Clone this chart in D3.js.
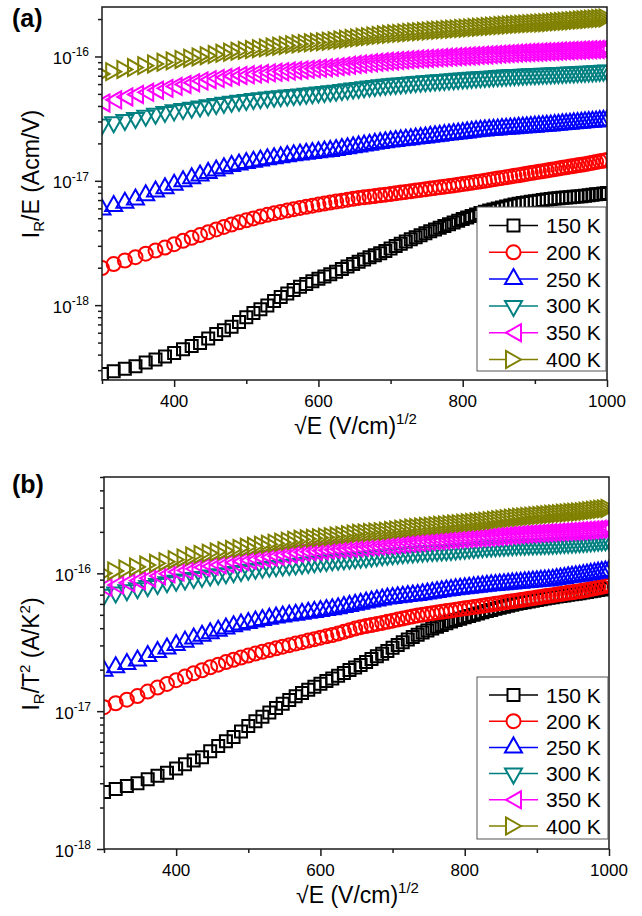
<!DOCTYPE html>
<html>
<head>
<meta charset="utf-8">
<script src="https://cdn.jsdelivr.net/npm/d3@7"></script>
<style>
body { margin: 0; background: #fff; }
svg text { font-family: Arial, "Liberation Sans", sans-serif; fill: #000; }
</style>
</head>
<body>
<svg id="chart" width="642" height="916"></svg>
<script>
// sqrt(E), (V/cm)^1/2 -- one point per 10 kV/cm step in E
var sqrtE = [300.0,316.2,331.7,346.4,360.6,374.2,387.3,400.0,412.3,424.3,
  435.9,447.2,458.3,469.0,479.6,489.9,500.0,509.9,519.6,529.2,
  538.5,547.7,556.8,565.7,574.5,583.1,591.6,600.0,608.3,616.4,
  624.5,632.5,640.3,648.1,655.7,663.3,670.8,678.2,685.6,692.8,
  700.0,707.1,714.1,721.1,728.0,734.8,741.6,748.3,755.0,761.6,
  768.1,774.6,781.0,787.4,793.7,800.0,806.2,812.4,818.5,824.6,
  830.7,836.7,842.6,848.5,854.4,860.2,866.0,871.8,877.5,883.2,
  888.8,894.4,900.0,905.5,911.0,916.5,922.0,927.4,932.7,938.1,
  943.4,948.7,953.9,959.2,964.4,969.5,974.7,979.8,984.9,989.9,
  995.0,1000.0];

var temps = ["150 K", "200 K", "250 K", "300 K", "350 K", "400 K"];

// (a) I_R/E, in units of 1e-18 A cm/V
var unitA = 1e-18;
var a150 = [0.279,0.294,0.308,0.323,0.345,0.366,0.386,0.413,0.441,0.469,
  0.496,0.540,0.585,0.627,0.669,0.731,0.798,0.864,0.928,0.995,
  1.078,1.161,1.243,1.323,1.403,1.478,1.553,1.627,1.700,1.771,
  1.854,1.951,2.045,2.139,2.231,2.329,2.426,2.522,2.618,2.727,
  2.861,2.993,3.124,3.254,3.382,3.509,3.648,3.788,3.928,4.067,
  4.202,4.338,4.472,4.621,4.771,4.921,5.068,5.216,5.361,5.505,
  5.643,5.760,5.876,5.990,6.105,6.218,6.331,6.444,6.541,6.620,
  6.697,6.774,6.851,6.927,7.003,7.078,7.149,7.197,7.243,7.291,
  7.338,7.385,7.431,7.478,7.524,7.580,7.647,7.714,7.780,7.845,
  7.912,7.977];
var a200 = [1.988,2.141,2.286,2.432,2.595,2.752,2.903,3.092,3.288,3.479,
  3.663,3.865,4.066,4.258,4.450,4.633,4.811,4.987,5.158,5.326,
  5.475,5.622,5.767,5.910,6.050,6.180,6.308,6.435,6.560,6.682,
  6.805,6.927,7.047,7.166,7.279,7.370,7.460,7.548,7.636,7.730,
  7.834,7.937,8.038,8.140,8.240,8.339,8.445,8.550,8.656,8.760,
  8.863,8.965,9.066,9.183,9.301,9.419,9.536,9.652,9.767,9.880,
  10.00,10.14,10.28,10.42,10.55,10.69,10.82,10.96,11.09,11.24,
  11.39,11.53,11.68,11.82,11.96,12.10,12.25,12.40,12.55,12.71,
  12.86,13.01,13.16,13.31,13.46,13.62,13.80,13.98,14.16,14.34,
  14.52,14.70];
var a250 = [6.155,6.576,6.978,7.414,8.012,8.586,9.139,9.752,10.37,10.97,
  11.55,12.13,12.70,13.24,13.79,14.19,14.55,14.90,15.24,15.58,
  15.88,16.19,16.49,16.78,17.06,17.30,17.54,17.77,18.01,18.23,
  18.51,18.84,19.17,19.49,19.81,20.14,20.46,20.78,21.10,21.39,
  21.65,21.90,22.15,22.40,22.64,22.89,23.15,23.40,23.66,23.92,
  24.17,24.41,24.66,24.92,25.17,25.43,25.68,25.93,26.18,26.42,
  26.65,26.81,26.97,27.13,27.30,27.45,27.61,27.77,27.93,28.09,
  28.25,28.41,28.57,28.73,28.89,29.04,29.21,29.40,29.59,29.79,
  29.98,30.18,30.36,30.56,30.74,30.93,31.11,31.29,31.47,31.65,
  31.83,32.01];
var a300 = [27.09,28.29,29.44,30.58,31.84,33.06,34.22,35.19,36.08,36.96,
  37.80,38.70,39.59,40.44,41.29,42.03,42.73,43.42,44.09,44.74,
  45.25,45.77,46.27,46.77,47.26,47.84,48.42,48.98,49.54,50.09,
  50.70,51.38,52.04,52.70,53.35,54.01,54.66,55.30,55.94,56.52,
  57.02,57.51,58.00,58.49,58.97,59.45,59.87,60.28,60.69,61.10,
  61.50,61.90,62.29,62.69,63.09,63.48,63.87,64.27,64.65,65.03,
  65.40,65.72,66.04,66.36,66.67,66.98,67.30,67.61,67.88,68.12,
  68.35,68.58,68.81,69.04,69.27,69.49,69.72,69.95,70.18,70.41,
  70.64,70.87,71.09,71.32,71.54,71.80,72.12,72.43,72.74,73.05,
  73.36,73.67];
var a350 = [42.26,44.80,47.23,49.50,51.55,53.52,55.41,57.48,59.54,61.56,
  63.50,65.02,66.51,67.94,69.36,70.37,71.24,72.10,72.94,73.78,
  74.63,75.47,76.30,77.11,77.92,78.74,79.54,80.34,81.13,81.89,
  82.82,83.92,85.01,86.08,87.12,88.01,88.89,89.77,90.63,91.41,
  92.09,92.76,93.42,94.08,94.73,95.37,95.92,96.44,96.97,97.49,
  97.99,98.50,99.00,99.51,100.0,100.5,101.0,101.5,102.0,102.5,
  102.9,103.5,104.0,104.5,105.0,105.4,105.9,106.4,106.9,107.2,
  107.6,108.0,108.3,108.7,109.0,109.4,109.8,110.1,110.5,110.9,
  111.2,111.6,111.9,112.3,112.6,113.0,113.3,113.6,113.9,114.3,
  114.6,114.9];
var a400 = [72.3,75.5,78.6,81.5,84.4,87.1,89.8,92.2,94.6,96.9,
  99.1,101.4,103.7,106.0,108.2,110.1,111.9,113.7,115.5,117.2,
  119.1,120.9,122.7,124.5,126.2,127.5,128.8,130.1,131.4,132.6,
  134.1,135.9,137.6,139.4,141.1,142.8,144.5,146.2,147.9,149.4,
  150.7,152.1,153.4,154.6,155.9,157.2,158.3,159.4,160.5,161.6,
  162.6,163.7,164.7,165.8,166.8,167.9,168.9,169.9,171.0,172.0,
  173.0,174.1,175.1,176.2,177.2,178.3,179.3,180.3,181.3,182.1,
  182.9,183.8,184.6,185.4,186.2,187.0,187.9,188.9,190.0,191.0,
  192.1,193.1,194.1,195.2,196.2,197.3,198.4,199.6,200.7,201.8,
  203.0,204.1];

// (b) I_R/T^2, in units of 1e-18 A/K^2
var unitB = 1e-18;
var b150 = [2.588,2.727,2.861,3.005,3.203,3.394,3.577,3.837,4.113,4.381,
  4.640,5.115,5.586,6.038,6.488,7.119,7.794,8.460,9.108,9.772,
  10.54,11.31,12.07,12.81,13.55,14.30,15.05,15.79,16.52,17.23,
  18.04,18.96,19.86,20.75,21.64,22.78,23.89,25.00,26.10,27.33,
  28.80,30.25,31.68,33.10,34.51,35.90,37.21,38.48,39.75,41.01,
  42.25,43.48,44.70,45.83,46.92,48.01,49.09,50.16,51.22,52.27,
  53.32,54.31,55.28,56.25,57.22,58.18,59.13,60.09,60.97,61.76,
  62.54,63.32,64.09,64.86,65.62,66.38,67.14,67.82,68.49,69.18,
  69.84,70.51,71.17,71.84,72.50,73.21,74.00,74.78,75.56,76.32,
  77.10,77.86];
var b200 = [10.69,11.42,12.12,12.87,13.87,14.83,15.76,16.79,17.83,18.84,
  19.81,20.79,21.76,22.69,23.61,24.48,25.33,26.16,26.97,27.77,
  28.57,29.36,30.14,30.91,31.67,32.50,33.31,34.12,34.92,35.70,
  36.60,37.65,38.68,39.71,40.69,41.46,42.21,42.96,43.71,44.48,
  45.34,46.18,47.02,47.85,48.67,49.48,50.15,50.77,51.40,52.03,
  52.64,53.24,53.85,54.48,55.11,55.74,56.36,56.97,57.58,58.19,
  58.82,59.48,60.14,60.79,61.45,62.09,62.73,63.37,64.03,64.72,
  65.39,66.07,66.74,67.40,68.07,68.73,69.40,70.11,70.80,71.51,
  72.21,72.90,73.58,74.27,74.96,75.80,76.83,77.84,78.85,79.85,
  80.85,81.85];
var b250 = [20.49,21.75,22.94,24.27,26.16,27.98,29.73,31.54,33.32,35.06,
  36.74,38.37,39.98,41.53,43.07,44.35,45.52,46.69,47.82,48.91,
  49.77,50.61,51.45,52.28,53.09,53.94,54.77,55.60,56.42,57.22,
  58.19,59.36,60.52,61.66,62.79,63.97,65.14,66.29,67.44,68.42,
  69.15,69.88,70.59,71.31,72.01,72.71,73.60,74.52,75.44,76.35,
  77.24,78.13,79.01,79.78,80.51,81.25,81.97,82.70,83.41,84.11,
  84.79,85.36,85.92,86.47,87.03,87.58,88.13,88.68,89.23,89.79,
  90.35,90.90,91.46,92.00,92.55,93.09,93.72,94.67,95.61,96.58,
  97.51,98.45,99.37,100.3,101.2,102.2,103.3,104.4,105.5,106.6,
  107.6,108.7];
var b300 = [67.0,69.7,72.2,74.7,77.5,80.2,82.7,84.8,86.7,88.6,
  90.4,92.4,94.3,96.1,97.9,99.8,101.7,103.5,105.3,107.0,
  108.2,109.3,110.3,111.4,112.5,113.9,115.3,116.7,118.0,119.3,
  120.5,121.5,122.4,123.4,124.3,125.7,127.1,128.4,129.8,131.0,
  132.1,133.1,134.1,135.1,136.1,137.1,137.9,138.6,139.2,139.9,
  140.6,141.2,141.9,142.8,143.8,144.8,145.8,146.7,147.7,148.6,
  149.5,150.1,150.8,151.4,152.1,152.7,153.3,153.9,154.4,154.8,
  155.1,155.4,155.8,156.1,156.4,156.7,157.1,157.7,158.3,159.0,
  159.6,160.2,160.8,161.4,162.0,162.7,163.6,164.4,165.2,166.0,
  166.9,167.7];
var b350 = [79.2,82.3,85.3,88.4,92.2,95.8,99.3,102.3,105.1,107.8,
  110.5,112.8,115.2,117.4,119.6,121.9,124.2,126.5,128.7,130.9,
  133.2,135.5,137.7,140.0,142.1,143.4,144.7,146.0,147.3,148.6,
  149.8,151.0,152.1,153.3,154.4,155.6,156.7,157.8,158.9,160.1,
  161.4,162.6,163.8,165.1,166.3,167.5,168.8,170.0,171.3,172.5,
  173.8,175.0,176.2,177.1,177.9,178.7,179.5,180.3,181.1,181.8,
  182.7,184.0,185.2,186.3,187.5,188.7,189.9,191.0,192.1,192.9,
  193.7,194.4,195.2,196.0,196.8,197.6,198.3,199.1,199.9,200.7,
  201.5,202.2,203.0,203.8,204.5,205.4,206.5,207.6,208.7,209.8,
  210.8,211.9];
var b400 = [100.0,104.0,107.7,111.3,114.9,118.3,121.5,125.5,129.5,133.5,
  137.3,140.2,143.1,145.9,148.7,151.5,154.4,157.2,159.9,162.7,
  165.5,168.3,171.1,173.9,176.5,178.1,179.8,181.4,183.0,184.5,
  186.4,188.6,190.9,193.1,195.1,196.5,197.9,199.3,200.7,202.3,
  204.5,206.7,208.8,210.9,213.0,215.0,216.8,218.4,220.0,221.6,
  223.1,224.7,226.3,227.8,229.4,231.0,232.5,234.1,235.6,237.1,
  238.8,240.9,243.1,245.2,247.3,249.3,251.4,253.5,255.3,256.9,
  258.5,260.1,261.7,263.3,264.9,266.4,268.0,269.6,271.2,272.8,
  274.3,275.9,277.4,279.0,280.5,282.4,284.7,286.9,289.2,291.4,
  293.6,295.8];

var xMajor = [400, 600, 800, 1000];
var xMinor = [300, 500, 700, 900];

var colors = ["#000000", "#ff0000", "#0000ff", "#008080", "#ff00ff", "#808000"];
// open symbols: square, circle, up, down, left, right triangle
var shapes = [
  "M-6,-6H6V6H-6Z",
  "M7,0A7,7 0 1,1 -7,0A7,7 0 1,1 7,0Z",
  "M0,-7.5L8.5,7.5L-8.5,7.5Z",
  "M0,7.5L8.5,-7.5L-8.5,-7.5Z",
  "M-7.5,0L7.5,-8.5L7.5,8.5Z",
  "M7.5,0L-7.5,-8.5L-7.5,8.5Z"
];
// legend symbol nudge so the line passes through the triangle centroid
var legendNudge = [0, 0, -2.5, 2.5, 0, 0];

var svg = d3.select("#chart");
var axisColor = "#1a1a1a";

function isDecade(v) {
  var l = Math.log10(v);
  return Math.abs(l - Math.round(l)) < 1e-6;
}

function drawPanel(p) {
  var x = d3.scaleLinear().domain([300, 1000]).range([p.left, p.right]);
  var y = d3.scaleLog().domain(p.yDomain).range([p.bottom, p.top]);
  var g = svg.append("g");

  g.append("clipPath").attr("id", p.id)
    .append("rect")
    .attr("x", p.left).attr("y", p.top)
    .attr("width", p.right - p.left).attr("height", p.bottom - p.top);

  // Data markers
  var plot = g.append("g").attr("clip-path", "url(#" + p.id + ")");
  p.series.forEach(function(vals, i) {
    plot.append("g").selectAll("path")
      .data(vals)
      .join("path")
      .attr("d", shapes[i])
      .attr("transform", function(d, j) {
        return "translate(" + x(sqrtE[j]) + "," + y(d * p.unit) + ")";
      })
      .attr("fill", "none")
      .attr("stroke", colors[i])
      .attr("stroke-width", 2);
  });

  // Y axis ticks
  var yt = y.ticks();
  var yMajor = yt.filter(isDecade);
  var yMinor = yt.filter(function(v) { return !isDecade(v); });
  var yAx = g.append("g").attr("transform", "translate(" + p.left + ",0)");
  yAx.append("g").call(d3.axisLeft(y).tickValues(yMinor).tickSize(4).tickFormat(""));
  yAx.append("g").call(d3.axisLeft(y).tickValues(yMajor).tickSize(7).tickFormat(""));
  yMajor.forEach(function(v) {
    var t = g.append("text")
      .attr("x", p.left - 13)
      .attr("y", y(v) + 7.5)
      .attr("text-anchor", "end")
      .style("font-size", "17px");
    t.append("tspan").text("10");
    t.append("tspan").attr("dy", -7.5).style("font-size", "12px")
      .text(String(Math.round(Math.log10(v))));
  });

  // X axis ticks
  var xAx = g.append("g").attr("transform", "translate(0," + p.bottom + ")");
  xAx.append("g").call(d3.axisBottom(x).tickValues(xMinor).tickSize(4).tickFormat(""));
  xAx.append("g").call(d3.axisBottom(x).tickValues(xMajor).tickSize(7).tickFormat(""));
  xMajor.forEach(function(v) {
    g.append("text")
      .attr("x", x(v)).attr("y", p.bottom + 27)
      .attr("text-anchor", "middle")
      .style("font-size", "17px")
      .text(v);
  });

  g.selectAll(".domain").remove();
  g.selectAll(".tick line").attr("stroke", axisColor).attr("stroke-width", 1.5);

  // Frame
  g.append("rect")
    .attr("x", p.left).attr("y", p.top)
    .attr("width", p.right - p.left).attr("height", p.bottom - p.top)
    .attr("fill", "none").attr("stroke", axisColor).attr("stroke-width", 1.5);

  // X title
  var xt = g.append("text")
    .attr("x", (p.left + p.right) / 2 + 1)
    .attr("y", p.bottom + 54)
    .attr("text-anchor", "middle")
    .style("font-size", "23px");
  xt.append("tspan").text("\u221AE (V/cm)");
  xt.append("tspan").attr("dy", -10).style("font-size", "15px").text("1/2");

  // Y title
  var ytl = g.append("text")
    .attr("transform", "translate(39," + p.titleY + ") rotate(-90)")
    .attr("text-anchor", "middle")
    .style("font-size", "23px");
  p.title.forEach(function(part) {
    var ts = ytl.append("tspan").text(part.t);
    if (part.dy) ts.attr("dy", part.dy);
    if (part.small) ts.style("font-size", "15px");
  });

  // Panel letter
  g.append("text")
    .attr("x", 12).attr("y", p.letterY)
    .style("font-size", "25px").style("font-weight", "bold")
    .text(p.letter);

  // Legend
  var lg = g.append("g");
  lg.append("rect")
    .attr("x", 477).attr("y", p.legTop)
    .attr("width", p.right - 1 - 477).attr("height", p.legBottom - p.legTop)
    .attr("fill", "#fff").attr("stroke", "#555").attr("stroke-width", 1);
  temps.forEach(function(name, i) {
    var ry = p.row0 + i * p.rowH;
    lg.append("line")
      .attr("x1", 489).attr("x2", 538).attr("y1", ry).attr("y2", ry)
      .attr("stroke", colors[i]).attr("stroke-width", 1.5);
    lg.append("path")
      .attr("d", shapes[i])
      .attr("transform", "translate(513.5," + (ry + legendNudge[i]) + ")")
      .attr("fill", "#fff").attr("stroke", colors[i]).attr("stroke-width", 2);
    lg.append("text")
      .attr("x", 546).attr("y", ry + 7.5)
      .style("font-size", "21px")
      .text(name);
  });
}

drawPanel({
  id: "clipA", left: 102, right: 607, top: 7, bottom: 380,
  yDomain: [2.5e-19, 2.5e-16], unit: unitA,
  series: [a150, a200, a250, a300, a350, a400],
  letter: "(a)", letterY: 27, titleY: 174,
  title: [{t: "I"}, {t: "R", dy: 5, small: true}, {t: "/E (Acm/V)", dy: -5}],
  legTop: 207, legBottom: 371, row0: 225.5, rowH: 26.8
});

drawPanel({
  id: "clipB", left: 104, right: 609, top: 477, bottom: 849,
  yDomain: [1e-18, 5e-16], unit: unitB,
  series: [b150, b200, b250, b300, b350, b400],
  letter: "(b)", letterY: 493, titleY: 654,
  title: [{t: "I"}, {t: "R", dy: 5, small: true}, {t: "/T", dy: -5},
          {t: "2", dy: -9, small: true}, {t: " (A/K", dy: 9},
          {t: "2", dy: -9, small: true}, {t: ")", dy: 9}],
  legTop: 677, legBottom: 839, row0: 695, rowH: 26.2
});
</script>
</body>
</html>
